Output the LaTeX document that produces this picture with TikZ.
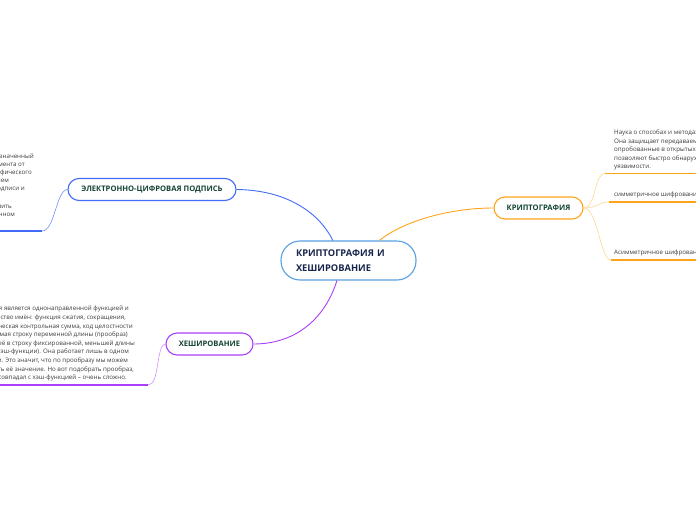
\documentclass[tikz,border=0pt]{standalone}
\usepackage{fontspec}
\setmainfont{Open Sans}
\usetikzlibrary{positioning}
\definecolor{ecpblue}{RGB}{66,108,246}
\definecolor{rootblue}{RGB}{86,160,226}
\definecolor{kriptorange}{RGB}{255,163,26}
\definecolor{lightorange}{RGB}{255,214,150}
\definecolor{hashpurple}{RGB}{172,64,250}
\definecolor{lightpurple}{RGB}{208,145,255}
\definecolor{darkgreen}{RGB}{20,68,52}
\definecolor{darknavy}{RGB}{24,38,78}
\definecolor{notegray}{RGB}{60,60,60}

\tikzset{
  rootbox/.style={draw=rootblue,fill=white,line width=1.1pt,rounded corners=19pt,
    minimum height=39pt,text width=105pt,inner xsep=15pt,inner ysep=0pt,align=left,
    font=\fontsize{9.3}{15}\selectfont\bfseries,text=darknavy},
  branch/.style={draw,fill=white,line width=1.1pt,rounded corners=11pt,
    minimum height=22pt,inner sep=0pt,font=\fontsize{7.6}{9}\selectfont\bfseries,text=darkgreen},
  note/.style={inner sep=0pt,font=\fontsize{6.2}{8.6}\selectfont,text=notegray},
}

\begin{document}
\begin{tikzpicture}[x=1pt,y=-1pt]
  \useasboundingbox (0,0) rectangle (696,520);
  \clip (0,0) rectangle (696,520);
  % central topic and branches
  \node[rootbox] (root) at (348.5,260.5) {КРИПТОГРАФИЯ И\\ХЕШИРОВАНИЕ};
  \node[branch,draw=ecpblue,minimum width=168pt] (ecp) at (152,189.5) {ЭЛЕКТРОННО-ЦИФРОВАЯ ПОДПИСЬ};
  \node[branch,draw=kriptorange,minimum width=89pt] (kript) at (538.5,208) {КРИПТОГРАФИЯ};
  \node[branch,draw=hashpurple,minimum width=87pt] (hash) at (209.5,344) {ХЕШИРОВАНИЕ};
  % connectors from the centre
  \draw[ecpblue,line width=0.9pt] (ecp.east) .. controls (288,190) and (320,214) .. (root.128);
  \draw[kriptorange,line width=0.9pt] (root.33) .. controls (402,222) and (448,208) .. (kript.west);
  \draw[hashpurple,line width=0.9pt] (root.240) .. controls (326,316) and (298,344) .. (hash.east);
  % underline ends
  \coordinate (ecpu) at (42,231);
  \coordinate (ecpu0) at (0,231);
  \coordinate (hashu) at (148,385);
  \coordinate (hashu0) at (0,385);
  \coordinate (k1) at (605,173.5);
  \coordinate (k1e) at (696,173.5);
  \coordinate (k2) at (609,202);
  \coordinate (k2e) at (696,202);
  \coordinate (k3) at (611,260);
  \coordinate (k3e) at (696,260);
  % electronic signature text
  \draw[ecpblue!75,line width=0.6pt] (ecp.west) .. controls (56,190) and (55,231) .. (ecpu);
  \draw[ecpblue,line width=1.8pt] (ecpu) -- (ecpu0);
  \foreach \n/\x/\y/\t in {1/34/158/{реквизит электронного документа, предназначенный},
      2/25/166.5/{для защиты данного документа от},
      3/32/174.5/{подделки, полученный в результате криптографического},
      4/9/182.5/{преобразования информации с использованием},
      5/25/190.5/{закрытого ключа электронной цифровой подписи и},
      7/12/208/{владельца сертификата ключа подписи, а также установить},
      8/15/216.5/{отсутствие искажения информации в электронном}}
    \node[note,anchor=base east] (ecptxt\n) at (\x,\y) {\t};
  % hashing text
  \draw[lightpurple,line width=0.6pt] (hash.west) .. controls (156,344) and (160,385) .. (hashu);
  \draw[hashpurple,line width=1.8pt] (hashu) -- (hashu0);
  \foreach \n/\x/\y/\t in {1/129/310.5/{Хеш-функция является однонаправленной функцией и},
      2/126/319/{имеет множество имён: функция сжатия, сокращения,},
      3/133/328/{криптографическая контрольная сумма, код целостности},
      4/128/336/{сообщения. Принимая строку переменной длины (прообраз)},
      5/135/345/{и преобразуя её в строку фиксированной, меньшей длины},
      6/129/353.5/{(значение хэш-функции). Она работает лишь в одном},
      7/128/362.5/{направлении. Это значит, что по прообразу мы можем},
      8/134/371/{легко вычислить её значение. Но вот подобрать прообраз,},
      9/127/379.5/{который бы совпадал с хэш-функцией – очень сложно.}}
    \node[note,anchor=base east] (hashtxt\n) at (\x,\y) {\t};
  % cryptography subtopics
  \draw[lightorange,line width=0.6pt] (kript.east) .. controls (596,208) and (594,174) .. (k1);
  \draw[lightorange,line width=0.6pt] (kript.east) .. controls (598,208) and (598,202) .. (k2);
  \draw[lightorange,line width=0.6pt] (kript.east) .. controls (598,208) and (600,260) .. (k3);
  \draw[kriptorange,line width=1.8pt] (k1) -- (k1e);
  \draw[kriptorange,line width=1.8pt] (k2) -- (k2e);
  \draw[kriptorange,line width=1.8pt] (k3) -- (k3e);
  \foreach \n/\y/\t in {1/134.5/{Наука о способах и методах защиты информации.},
      2/143/{Она защищает передаваемые данные методами,},
      3/151.5/{опробованные в открытых системах, которые},
      4/160/{позволяют быстро обнаруживать},
      5/168.5/{уязвимости.}}
    \node[note,anchor=base west] (kripttxt\n) at (614,\y) {\t};
  \node[note,anchor=base west] (symtxt) at (614,196.5) {симметричное шифрование};
  \node[note,anchor=base west] (asymtxt) at (614,254.5) {Асимметричное шифрование};
\end{tikzpicture}
\end{document}
